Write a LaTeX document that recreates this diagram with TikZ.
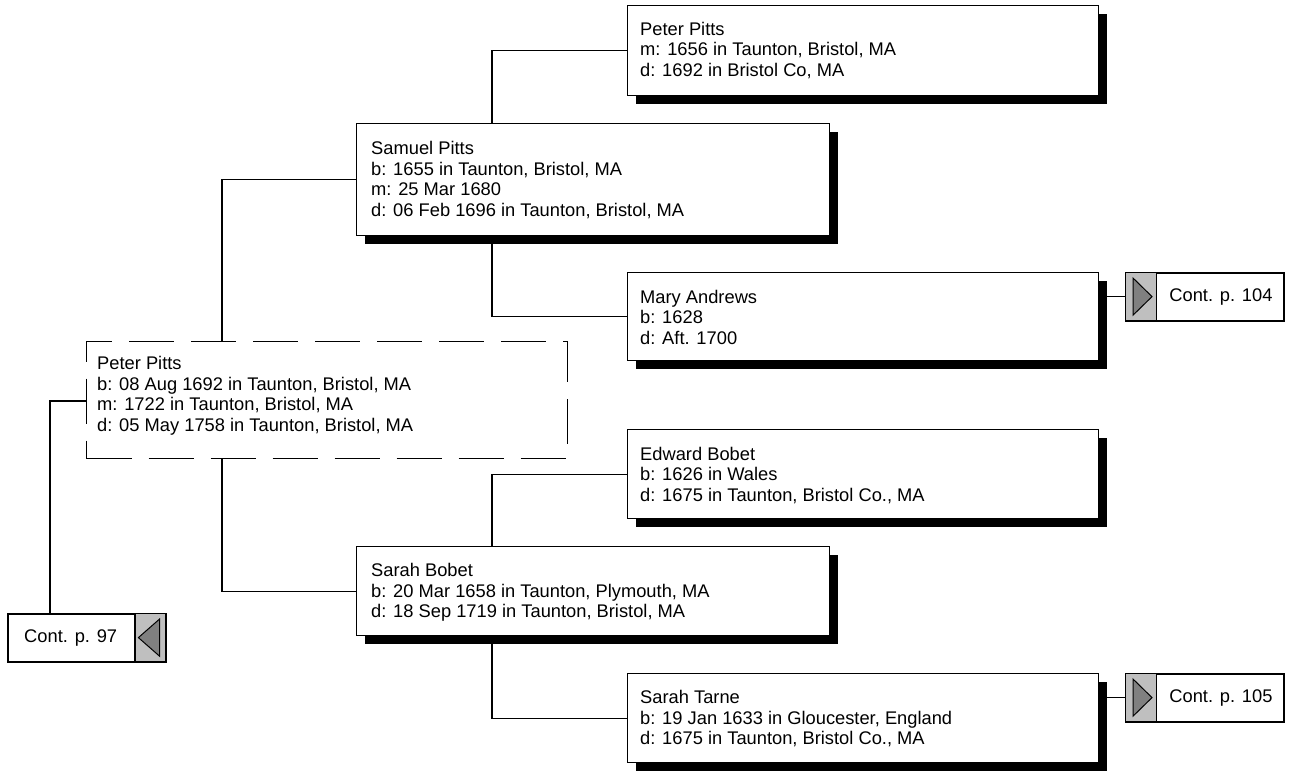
\documentclass[tikz,border=0pt]{standalone}
\usepackage{fontspec}
\setmainfont{Liberation Sans}
\usetikzlibrary{calc,shadows}
\begin{document}
\begin{tikzpicture}[x=1pt,y=-1pt,
  pbox/.style={draw=black, line width=1.2pt, fill=white, rectangle, anchor=north west, inner sep=0pt,
     general shadow={fill=black, shadow xshift=8pt, shadow yshift=-8pt}},
  fbox/.style={draw=black, line width=1pt, dash pattern=on 45pt off 17pt, rectangle, anchor=north west, inner sep=0pt},
  txt/.style={anchor=north west, inner sep=0pt, align=left, font=\fontsize{18.3}{20.5}\selectfont},
  ctxt/.style={inner sep=0pt, font=\fontsize{18.3}{20.5}\selectfont},
  link/.style={draw=black, line width=1.2pt},
  cbox/.style={draw=black, line width=1.6pt, fill=white, rectangle, anchor=north west,
     minimum width=158pt, minimum height=48pt, inner sep=0pt},
  cgrey/.style={draw=black, line width=1.2pt, fill=black!25, rectangle, anchor=north west,
     minimum width=31pt, minimum height=48pt, inner sep=0pt},
  ctri/.style={draw=black, line width=1pt, fill=black!50}
]
\useasboundingbox (0,0) rectangle (1291,772);

% connector anchors
\coordinate (sx) at (492,0);
\coordinate (fx) at (222,0);
\coordinate (cx) at (50,401);

% person boxes
\node[pbox, minimum width=471pt, minimum height=90pt] (ptop) at (627,5) {};
\node[pbox, minimum width=473pt, minimum height=112pt] (sam) at (356,123) {};
\node[pbox, minimum width=471pt, minimum height=88pt] (mary) at (627,272) {};
\node[fbox, minimum width=481pt, minimum height=117pt] (focus) at (86,341) {};
\node[pbox, minimum width=471pt, minimum height=89pt] (edw) at (627,429) {};
\node[pbox, minimum width=473pt, minimum height=89pt] (sbob) at (356,546) {};
\node[pbox, minimum width=471pt, minimum height=89pt] (tarne) at (627,673) {};

% texts
\node[txt] (ptopT) at ($(ptop.north west)+(13,17)$) {Peter Pitts\\m: 1656 in Taunton, Bristol, MA\\d: 1692 in Bristol Co, MA};
\node[txt] (samT) at ($(sam.north west)+(15,18.5)$) {Samuel Pitts\\b: 1655 in Taunton, Bristol, MA\\m: 25 Mar 1680\\d: 06 Feb 1696 in Taunton, Bristol, MA};
\node[txt] (maryT) at ($(mary.north west)+(13,18)$) {Mary Andrews\\b: 1628\\d: Aft. 1700};
\node[txt] (focusT) at ($(focus.north west)+(11,15.5)$) {Peter Pitts\\b: 08 Aug 1692 in Taunton, Bristol, MA\\m: 1722 in Taunton, Bristol, MA\\d: 05 May 1758 in Taunton, Bristol, MA};
\node[txt] (edwT) at ($(edw.north west)+(13,18)$) {Edward Bobet\\b: 1626 in Wales\\d: 1675 in Taunton, Bristol Co., MA};
\node[txt] (sbobT) at ($(sbob.north west)+(15,17.5)$) {Sarah Bobet\\b: 20 Mar 1658 in Taunton, Plymouth, MA\\d: 18 Sep 1719 in Taunton, Bristol, MA};
\node[txt] (tarneT) at ($(tarne.north west)+(13,17.5)$) {Sarah Tarne\\b: 19 Jan 1633 in Gloucester, England\\d: 1675 in Taunton, Bristol Co., MA};

% continuation boxes
\node[cbox] (c104) at (1125,272) {};
\node[cgrey] (c104g) at (1125,272) {};
\draw[ctri] ($(c104g.north west)+(8,6)$) -- ($(c104g.south west)+(8,-6)$) -- ($(c104g.west)+(27,0)$) -- cycle;
\node[ctxt] (c104T) at ($(c104g.east)!0.5!(c104.east)$) {Cont. p. 104};

\node[cbox] (c105) at (1125,673) {};
\node[cgrey] (c105g) at (1125,673) {};
\draw[ctri] ($(c105g.north west)+(8,6)$) -- ($(c105g.south west)+(8,-6)$) -- ($(c105g.west)+(27,0)$) -- cycle;
\node[ctxt] (c105T) at ($(c105g.east)!0.5!(c105.east)$) {Cont. p. 105};

\node[cbox] (c97) at (7,613) {};
\node[cgrey, anchor=north east] (c97g) at (c97.north east) {};
\draw[ctri] ($(c97g.north east)+(-7,6)$) -- ($(c97g.south east)+(-7,-6)$) -- ($(c97g.west)+(4,0)$) -- cycle;
\node[ctxt] (c97T) at ($(c97.west)!0.5!(c97g.west)$) {Cont. p. 97};

% connectors
\draw[link] (sam.north -| sx) |- (ptop.west);
\draw[link] (sam.south -| sx) |- (mary.west);
\draw[link] (focus.north -| fx) |- (sam.west);
\draw[link] (focus.south -| fx) |- (sbob.west);
\draw[link] (sbob.north -| sx) |- (edw.west);
\draw[link] (sbob.south -| sx) |- (tarne.west);
\draw[link] (c104.west) -- (c104.west -| mary.east);
\draw[link] (c105.west) -- (c105.west -| tarne.east);
\draw[link] (focus.west |- cx) -| (c97.north -| cx);
\end{tikzpicture}
\end{document}
